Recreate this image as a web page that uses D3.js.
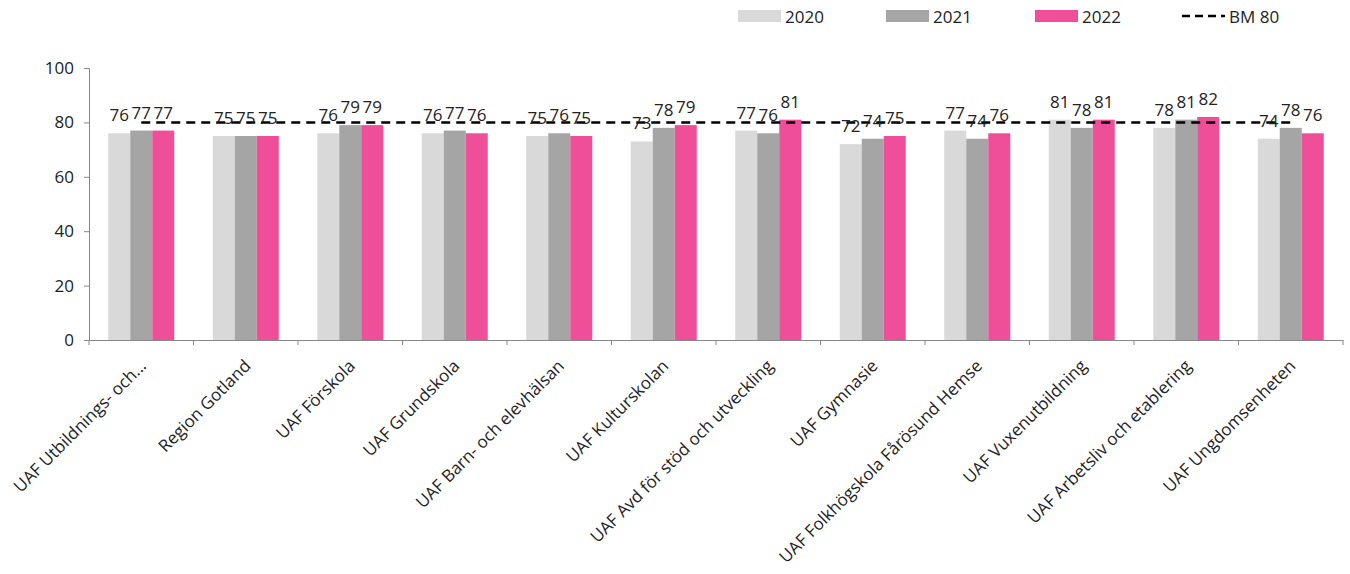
<!DOCTYPE html>
<html lang="sv">
<head>
<meta charset="UTF-8">
<title>Chart</title>
<style>
  body { margin: 0; padding: 0; background: #fff; }
  svg { display: block; }
  svg text { font-family: "Open Sans", "Noto Sans", sans-serif; }
</style>
</head>
<body>
<script src="https://d3js.org/d3.v7.min.js"></script>
<script>
const width = 1350
const height = 574

const categories = [
  'UAF Utbildnings- och...',
  'Region Gotland',
  'UAF Förskola',
  'UAF Grundskola',
  'UAF Barn- och elevhälsan',
  'UAF Kulturskolan',
  'UAF Avd för stöd och utveckling',
  'UAF Gymnasie',
  'UAF Folkhögskola Fårösund Hemse',
  'UAF Vuxenutbildning',
  'UAF Arbetsliv och etablering',
  'UAF Ungdomsenheten'
]
const years = ['2020', '2021', '2022']
const values2020 = [76, 75, 76, 76, 75, 73, 77, 72, 77, 81, 78, 74]
const values2021 = [77, 75, 79, 77, 76, 78, 76, 74, 74, 78, 81, 78]
const values2022 = [77, 75, 79, 76, 75, 79, 81, 75, 76, 81, 82, 76]
const benchmark = 80
const yTicks = [0, 20, 40, 60, 80, 100]
const colors = ['#d9d9d9', '#a5a5a5', '#ef4f98']

const series = [values2020, values2021, values2022]

const margin = { left: 89, right: 7, top: 68, bottom: 234 }
const plotW = width - margin.left - margin.right
const plotH = height - margin.top - margin.bottom
const groupW = 66

const svg = d3.select('body').append('svg')
  .attr('width', width)
  .attr('height', height)

const g = svg.append('g')
  .attr('transform', `translate(${margin.left},${margin.top})`)

const x = d3.scaleBand()
  .domain(categories)
  .range([0, plotW])

const xInner = d3.scaleBand()
  .domain(years)
  .range([0, groupW])

const y = d3.scaleLinear()
  .domain([0, 100])
  .range([plotH, 0])

// y axis
const yAxis = g.append('g')
  .call(d3.axisLeft(y).tickValues(yTicks).tickSize(5).tickPadding(10))
yAxis.select('.domain').attr('stroke', '#888')
yAxis.selectAll('.tick line').attr('stroke', '#888')
yAxis.selectAll('.tick text')
  .attr('font-size', 17)
  .attr('font-family', null)
  .attr('fill', '#222')

// bars
categories.forEach((cat, i) => {
  const gx = x(cat) + (x.bandwidth() - groupW) / 2
  years.forEach((yr, j) => {
    const v = series[j][i]
    g.append('rect')
      .attr('x', gx + xInner(yr))
      .attr('y', y(v))
      .attr('width', xInner.bandwidth())
      .attr('height', plotH - y(v))
      .attr('fill', colors[j])
  })
})

// benchmark line
const line = d3.line()
  .x(d => x(d) + x.bandwidth() / 2)
  .y(() => y(benchmark))
g.append('path')
  .datum(categories)
  .attr('d', line)
  .attr('fill', 'none')
  .attr('stroke', '#000')
  .attr('stroke-width', 2.5)
  .attr('stroke-dasharray', '9,6')

// data labels
categories.forEach((cat, i) => {
  const gx = x(cat) + (x.bandwidth() - groupW) / 2
  years.forEach((yr, j) => {
    const v = series[j][i]
    g.append('text')
      .attr('x', gx + xInner(yr) + xInner.bandwidth() / 2)
      .attr('y', y(v) - 12)
      .attr('text-anchor', 'middle')
      .attr('font-size', 17)
      .attr('fill', '#222')
      .text(v)
  })
})

// x axis
const xAxis = g.append('g')
  .attr('transform', `translate(0,${plotH})`)
  .call(d3.axisBottom(x).tickSize(0).tickFormat(''))
xAxis.select('.domain').attr('stroke', '#888')
xAxis.selectAll('.tick').remove()
const bounds = [0].concat(categories.map(c => x(c) + x.bandwidth()))
xAxis.selectAll('.xt')
  .data(bounds)
  .enter().append('line')
  .attr('class', 'xt')
  .attr('x1', d => d).attr('x2', d => d)
  .attr('y1', 0).attr('y2', 5)
  .attr('stroke', '#888')
xAxis.selectAll('.cat')
  .data(categories)
  .enter().append('text')
  .attr('class', 'cat')
  .attr('transform', d => `translate(${x(d) + x.bandwidth() / 2 + 6},${27}) rotate(-45)`)
  .attr('text-anchor', 'end')
  .attr('font-size', 17)
  .attr('fill', '#222')
  .text(d => d)

// legend
const legendItems = [
  { label: '2020', x: 738, color: colors[0] },
  { label: '2021', x: 886, color: colors[1] },
  { label: '2022', x: 1035, color: colors[2] }
]
const legend = svg.append('g')
legendItems.forEach(it => {
  legend.append('rect')
    .attr('x', it.x).attr('y', 10)
    .attr('width', 43).attr('height', 12)
    .attr('fill', it.color)
  legend.append('text')
    .attr('x', it.x + 47).attr('y', 23)
    .attr('font-size', 17)
    .attr('fill', '#222')
    .text(it.label)
})
legend.append('line')
  .attr('x1', 1182).attr('x2', 1225)
  .attr('y1', 16).attr('y2', 16)
  .attr('stroke', '#000')
  .attr('stroke-width', 2.5)
  .attr('stroke-dasharray', '8,5')
legend.append('text')
  .attr('x', 1229).attr('y', 23)
  .attr('font-size', 17)
  .attr('fill', '#222')
  .text('BM 80')
</script>
</body>
</html>
